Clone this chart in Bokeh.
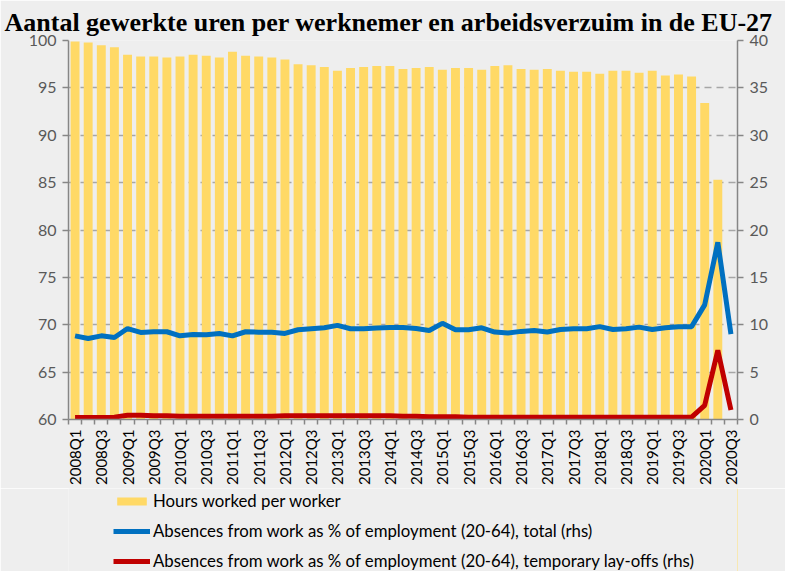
import math
from bokeh.plotting import figure
from bokeh.layouts import column
from bokeh.models import (Range1d, LinearAxis, FixedTicker, Legend, LegendItem,
                          ColumnDataSource, Title)
from bokeh.embed import file_html
from bokeh.resources import INLINE

years = list(range(2008, 2021))
quarters = [f"{y}Q{q}" for y in years for q in (1, 2, 3, 4)][:51]

hours = [99.9, 99.8, 99.5, 99.3, 98.5, 98.3, 98.3, 98.2, 98.3, 98.5,
         98.4, 98.2, 98.8, 98.4, 98.3, 98.2, 98.0, 97.5, 97.4, 97.2,
         96.8, 97.1, 97.2, 97.3, 97.3, 97.0, 97.1, 97.2, 96.9, 97.1,
         97.1, 96.9, 97.3, 97.4, 97.0, 96.9, 97.0, 96.8, 96.7, 96.7,
         96.5, 96.8, 96.8, 96.6, 96.8, 96.3, 96.4, 96.2, 93.4, 85.3, float("nan")]

absence_total = [8.83, 8.55, 8.83, 8.66, 9.6, 9.19, 9.26, 9.26, 8.83, 8.97,
                 8.94, 9.08, 8.83, 9.26, 9.22, 9.22, 9.08, 9.47, 9.58, 9.68,
                 9.93, 9.58, 9.58, 9.65, 9.72, 9.7, 9.6, 9.4, 10.15, 9.47,
                 9.47, 9.68, 9.23, 9.12, 9.3, 9.4, 9.23, 9.5, 9.58, 9.58,
                 9.8, 9.5, 9.58, 9.75, 9.5, 9.68, 9.8, 9.8, 12.1, 18.7, 9.0]

absence_layoffs = [0.2, 0.2, 0.2, 0.25, 0.45, 0.45, 0.4, 0.4, 0.35, 0.35,
                   0.35, 0.35, 0.35, 0.35, 0.35, 0.35, 0.4, 0.4, 0.4, 0.4,
                   0.4, 0.4, 0.4, 0.4, 0.4, 0.35, 0.35, 0.3, 0.3, 0.3,
                   0.25, 0.25, 0.25, 0.25, 0.25, 0.25, 0.25, 0.25, 0.25, 0.25,
                   0.25, 0.25, 0.25, 0.25, 0.25, 0.25, 0.25, 0.25, 1.5, 7.3, 1.0]

left_ticks = [60, 65, 70, 75, 80, 85, 90, 95, 100]
right_ticks = [0, 5, 10, 15, 20, 25, 30, 35, 40]

title_text = "Aantal gewerkte uren per werknemer en arbeidsverzuim in de EU-27"
legend_labels = ["Hours worked per worker",
                 "Absences from work as % of employment (20-64), total (rhs)",
                 "Absences from work as % of employment (20-64), temporary lay-offs (rhs)"]

idx = list(range(len(quarters)))
src = ColumnDataSource(dict(x=idx, hours=hours, total=absence_total, lay=absence_layoffs))

BG = "#EEEEEE"
GRAY = "#868686"
TXT = "#595959"
FONT = "Lato"
YELLOW = "#FFD966"
BLUE = "#0070C0"
RED = "#C00000"
W = 785

# ---- main chart ----
p = figure(width=W, height=488, output_backend="svg", toolbar_location=None,
           x_range=Range1d(-0.5, len(quarters) - 0.5), y_range=Range1d(60, 100),
           min_border_left=68, min_border_right=48, min_border_top=40, min_border_bottom=69,
           background_fill_color=BG, border_fill_color=BG)
p.outline_line_color = None
p.extra_y_ranges = {"rhs": Range1d(0, 40)}

t = Title(text=title_text, text_font="Liberation Serif", text_font_size="26px",
          text_font_style="bold", text_color="#000000", align="left",
          offset=-64, standoff=7)
p.add_layout(t, "above")

bars = p.vbar(x="x", bottom=60, top="hours", width=0.68, source=src,
              fill_color=YELLOW, line_color=None)
l1 = p.line(x="x", y="total", source=src, y_range_name="rhs", line_color=BLUE,
            line_width=5)
l2 = p.line(x="x", y="lay", source=src, y_range_name="rhs", line_color=RED,
            line_width=5)

p.xgrid.visible = False
p.ygrid.ticker = FixedTicker(ticks=left_ticks)
p.ygrid.grid_line_color = "#A6A6A6"
p.ygrid.grid_line_width = 1.5
p.ygrid.grid_line_dash = "7 5"

ya = p.yaxis[0]
ya.ticker = FixedTicker(ticks=left_ticks)
ra = LinearAxis(y_range_name="rhs", ticker=FixedTicker(ticks=right_ticks))
p.add_layout(ra, "right")

for ax in [ya, ra]:
    ax.axis_line_color = GRAY
    ax.axis_line_width = 1.5
    ax.major_tick_line_color = GRAY
    ax.major_tick_line_width = 1.5
    ax.major_tick_out = 6
    ax.major_tick_in = 0
    ax.minor_tick_line_color = None
    ax.major_label_text_font = FONT
    ax.major_label_text_font_size = "16px"
    ax.major_label_text_color = TXT
    ax.major_label_standoff = 6

xa = p.xaxis[0]
xa.ticker = FixedTicker(ticks=idx[::2], minor_ticks=[i - 0.5 for i in range(len(quarters) + 1)])
xa.major_label_overrides = {i: quarters[i] for i in idx}
xa.major_label_orientation = math.pi / 2
xa.axis_line_color = GRAY
xa.axis_line_width = 1.5
xa.major_tick_line_color = None
xa.minor_tick_line_color = GRAY
xa.minor_tick_line_width = 1.5
xa.minor_tick_out = 5
xa.minor_tick_in = 0
xa.major_label_text_font = FONT
xa.major_label_text_font_size = "15px"
xa.major_label_text_color = "#000000"
xa.major_label_standoff = 4

# ---- legend strip (same side borders as the chart) ----
lfig = figure(width=W, height=83, output_backend="svg", toolbar_location=None,
              x_range=Range1d(0, 1), y_range=Range1d(0, 1),
              x_axis_type=None, y_axis_type=None,
              min_border_left=68, min_border_right=48, min_border_top=0, min_border_bottom=0,
              background_fill_color=BG, border_fill_color=BG)
lfig.outline_line_color = None
lfig.grid.visible = False
dummy = ColumnDataSource(dict(x=[5, 6], y=[5, 5]))
g1 = lfig.vbar(x="x", top="y", width=0.5, source=dummy, fill_color=YELLOW, line_color=None)
g2 = lfig.line(x="x", y="y", source=dummy, line_color=BLUE, line_width=5)
g3 = lfig.line(x="x", y="y", source=dummy, line_color=RED, line_width=5)

legend = Legend(items=[
    LegendItem(label=legend_labels[0], renderers=[g1]),
    LegendItem(label=legend_labels[1], renderers=[g2]),
    LegendItem(label=legend_labels[2], renderers=[g3]),
], location=(45, 0), orientation="vertical")
legend.background_fill_alpha = 0
legend.border_line_color = None
legend.label_text_font = FONT
legend.label_text_font_size = "16.8px"
legend.label_text_color = "#000000"
legend.glyph_width = 37
legend.glyph_height = 10
legend.label_height = 19
legend.label_standoff = 3
legend.spacing = 9
legend.padding = 0
legend.margin = 0
lfig.add_layout(legend, "center")

layout = column(p, lfig, spacing=0)
open("out.html", "w").write(file_html(layout, INLINE))
